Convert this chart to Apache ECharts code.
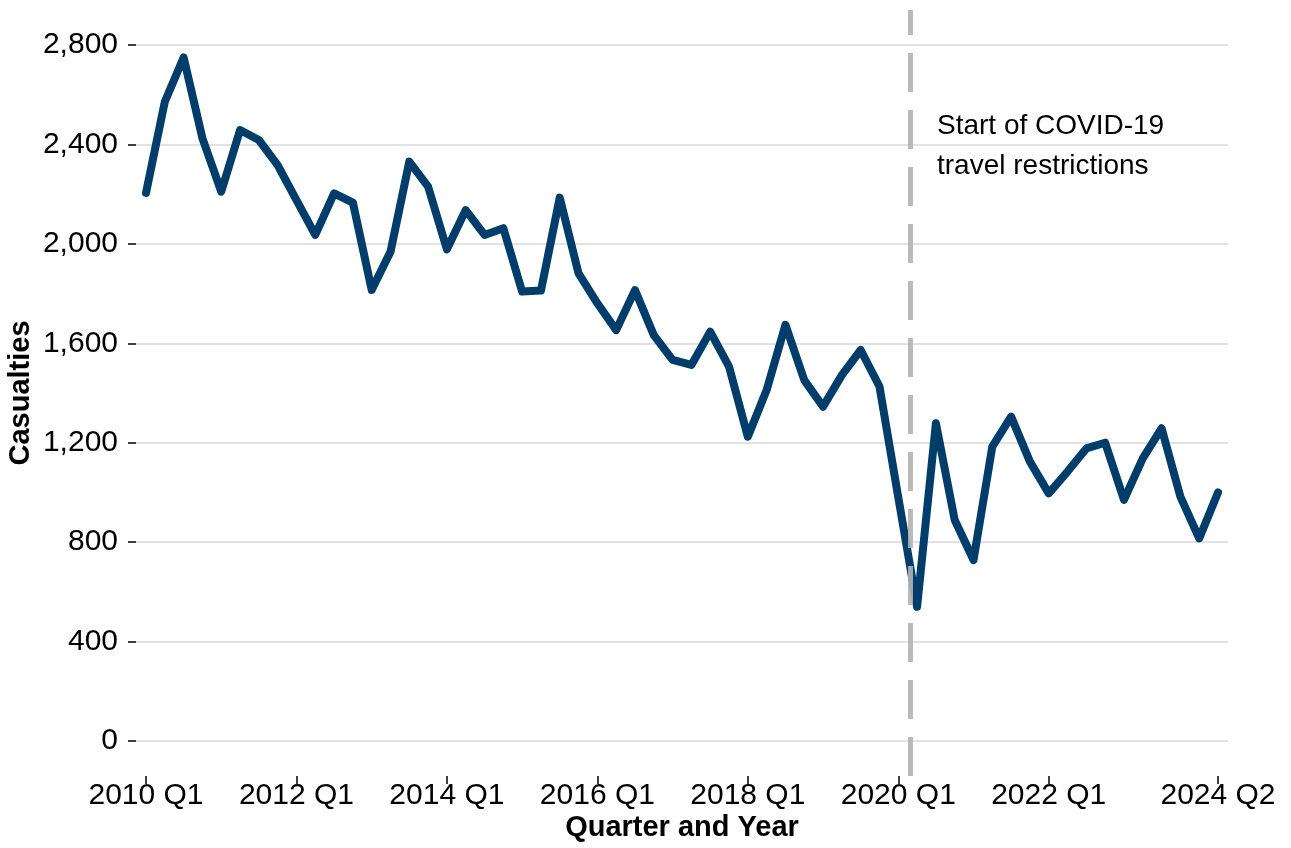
<!DOCTYPE html>
<html>
<head>
<meta charset="utf-8">
<script src="https://cdn.jsdelivr.net/npm/echarts@6/dist/echarts.min.js"></script>
<style>
  html, body { margin: 0; padding: 0; background: #fff; }
  #main { width: 1291px; height: 848px; }
</style>
</head>
<body>
<div id="main"></div>
<script>
// quarterly casualties, 2010 Q1 .. 2024 Q2 (58 quarters)
var casualties = [
  2205, 2572, 2750, 2425, 2210, 2458, 2418, 2317,
  2176, 2036, 2203, 2166, 1815, 1968, 2331, 2230,
  1978, 2136, 2036, 2063, 1808, 1812, 2186, 1881,
  1761, 1653, 1814, 1633, 1533, 1513, 1647, 1506,
  1224, 1412, 1674, 1452, 1345, 1472, 1573, 1426,
  980, 540, 1278, 889, 728, 1184, 1305, 1124,
  996, 1084, 1177, 1200, 970, 1137, 1258, 983,
  815, 1000
];
var tickIndex = [0, 8, 16, 24, 32, 40, 48, 57];
var tickLabels = ['2010 Q1', '2012 Q1', '2014 Q1', '2016 Q1', '2018 Q1', '2020 Q1', '2022 Q1', '2024 Q2'];
var yTicks = [0, 400, 800, 1200, 1600, 2000, 2400, 2800];
var covidStart = 40.62; // position of restriction start, in quarters from 2010 Q1

var points = casualties.map(function (v, i) { return [i, v]; });

var font = '"Liberation Sans", Arial, sans-serif';
var myChart = echarts.init(document.getElementById('main'));

var option = {
  animation: false,
  grid: { left: 136, right: 63, top: 10, bottom: 72, containLabel: false, outerBoundsMode: 'none' },
  xAxis: {
    type: 'value',
    min: -0.532,
    max: 57.532,
    name: 'Quarter and Year',
    nameLocation: 'middle',
    nameGap: 37,
    nameMoveOverlap: false,
    nameTextStyle: { fontFamily: font, fontSize: 29, fontWeight: 'bold', color: '#000' },
    axisLine: { show: false, onZero: false },
    axisTick: { show: true, length: 8, customValues: tickIndex, lineStyle: { color: '#000', width: 1.5 } },
    axisLabel: {
      customValues: tickIndex,
      margin: 5,
      fontFamily: font,
      fontSize: 30,
      color: '#000',
      formatter: function (v) { return tickLabels[tickIndex.indexOf(v)]; }
    },
    splitLine: { show: false }
  },
  yAxis: {
    type: 'value',
    min: -141,
    max: 2941,
    name: 'Casualties',
    nameLocation: 'middle',
    nameRotate: 90,
    nameGap: 101,
    nameMoveOverlap: false,
    nameTextStyle: { fontFamily: font, fontSize: 29, fontWeight: 'bold', color: '#000' },
    axisLine: { show: false, onZero: false },
    axisTick: { show: true, length: 8, customValues: yTicks, lineStyle: { color: '#000', width: 1.5 } },
    axisLabel: {
      customValues: yTicks,
      margin: 18,
      fontFamily: font,
      fontSize: 30,
      color: '#000',
      formatter: function (v) { return v.toLocaleString('en-US'); }
    },
    splitLine: { show: true, lineStyle: { color: '#d9d9d9', width: 1.5 } }
  },
  series: [{
    type: 'line',
    data: points,
    symbol: 'none',
    lineStyle: { color: '#003d6b', width: 8, cap: 'round', join: 'round' },
    markLine: {
      silent: true,
      symbol: 'none',
      label: { show: false },
      lineStyle: { color: '#b3b3b3', width: 5, type: [39, 18], opacity: 0.9 },
      data: [{ xAxis: covidStart }]
    },
    z: 2
  }],
  graphic: [{
    type: 'text',
    left: 937,
    top: 106,
    style: {
      text: 'Start of COVID-19\ntravel restrictions',
      fontFamily: font,
      fontSize: 28,
      lineHeight: 40,
      fill: '#000'
    }
  }]
};

myChart.setOption(option);
</script>
</body>
</html>
